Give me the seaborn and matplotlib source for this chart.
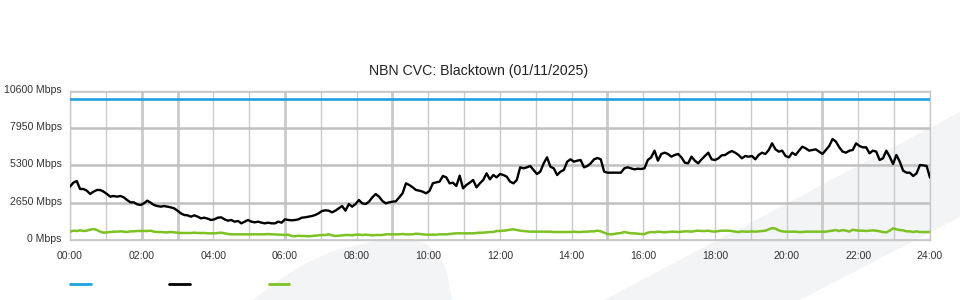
import numpy as np
import pandas as pd
import matplotlib
matplotlib.use("Agg")
import matplotlib.pyplot as plt
import matplotlib.transforms as mtransforms
import seaborn as sns
from matplotlib.patches import Polygon
from matplotlib.lines import Line2D

# ---------------- data (Mbps) ----------------
title = "NBN CVC: Blacktown (01/11/2025)"
capacity_mbps = 10000

black_00_06 = [3787, 4071, 4189, 3621, 3621, 3503, 3266, 3432, 3550, 3550,
               3432, 3266, 3077, 3124, 3077, 3124, 3029, 2840, 2674, 2674,
               2532, 2485, 2603, 2792, 2650, 2485, 2414, 2367, 2414, 2367,
               2319, 2248, 2082, 1893, 1775, 1751, 1657, 1751, 1657, 1538,
               1585, 1514, 1420, 1467, 1585, 1609, 1467, 1372, 1420, 1301,
               1349, 1183, 1301, 1420, 1301, 1254, 1301, 1230, 1183, 1230,
               1183, 1183, 1301, 1230]
black_06_12 = [1467, 1420, 1396, 1420, 1467, 1585, 1609, 1656, 1703, 1774,
               1893, 2058, 2106, 2082, 1964, 2082, 2248, 2413, 2082, 2555,
               2366, 2555, 2839, 2603, 2555, 2721, 3029, 3265, 3076, 2768,
               2603, 2674, 2721, 2745, 3029, 3313, 4023, 3905, 3739, 3550,
               3502, 3431, 3313, 3479, 4023, 4094, 4141, 4544, 4449, 4023,
               4070, 3834, 4567, 3668, 3905, 4070, 4260, 3739, 4023, 4260,
               4733, 4307, 4615, 4449]
black_12_18 = [4686, 4615, 4496, 4141, 4023, 4260, 5159, 5088, 5159, 5254,
               4970, 4686, 4851, 5443, 5869, 5206, 5088, 4615, 4851, 4970,
               5561, 5727, 5561, 5632, 5680, 5159, 5254, 5443, 5727, 5822,
               5727, 4851, 4780, 4780, 4780, 4780, 4780, 5088, 5159, 5088,
               5017, 5064, 5041, 5088, 5680, 5869, 6343, 5632, 6106, 6200,
               6106, 5916, 6035, 6106, 5869, 5490, 5443, 5916, 5632, 5443,
               5727, 5964, 6200, 5727]
black_18_24 = [5680, 5798, 6011, 6035, 6200, 6319, 6200, 6035, 5798, 5964,
               5916, 5964, 5727, 6035, 6200, 6106, 6390, 6863, 6437, 6272,
               6343, 5964, 5869, 6200, 6035, 6343, 6627, 6508, 6343, 6390,
               6437, 6272, 6106, 6390, 6674, 7171, 6982, 6579, 6272, 6200,
               6343, 6390, 6863, 6674, 6579, 6579, 6153, 6343, 6272, 5680,
               5798, 6343, 5916, 5396, 6035, 5561, 4922, 4780, 4780, 4543,
               4733, 5325, 5301, 5254, 4424]

green_00_06 = [591, 662, 639, 686, 639, 662, 733, 781, 710, 591,
               520, 544, 568, 591, 591, 615, 591, 568, 615, 615,
               639, 639, 639, 639, 662, 591, 568, 568, 544, 544,
               568, 544, 520, 497, 497, 497, 497, 520, 497, 497,
               497, 473, 473, 473, 497, 520, 473, 426, 402, 402,
               402, 402, 402, 402, 402, 402, 402, 402, 402, 426,
               402, 402, 378, 378]
green_06_12 = [354, 378, 283, 260, 307, 283, 283, 260, 283, 307,
               331, 354, 354, 402, 331, 283, 307, 331, 354, 354,
               331, 378, 378, 354, 378, 354, 331, 354, 354, 354,
               402, 402, 402, 402, 402, 425, 402, 402, 402, 449,
               425, 402, 378, 378, 378, 378, 402, 402, 402, 425,
               449, 473, 473, 473, 473, 473, 473, 496, 520, 520,
               544, 567, 567, 638]
green_12_18 = [638, 662, 685, 733, 756, 709, 662, 638, 614, 591,
               591, 591, 591, 591, 591, 591, 567, 567, 567, 567,
               567, 567, 591, 567, 567, 591, 591, 614, 614, 662,
               614, 520, 425, 402, 425, 473, 496, 567, 520, 473,
               473, 449, 425, 425, 520, 567, 543, 591, 567, 543,
               567, 591, 591, 567, 591, 614, 614, 591, 638, 662,
               638, 638, 662, 614]
green_18_24 = [591, 638, 662, 662, 662, 638, 591, 567, 614, 591,
               591, 614, 591, 614, 638, 662, 756, 851, 804, 685,
               614, 591, 591, 591, 591, 567, 567, 591, 591, 591,
               591, 591, 591, 591, 638, 662, 709, 638, 709, 662,
               591, 733, 685, 662, 662, 638, 662, 685, 662, 614,
               567, 543, 662, 828, 756, 709, 685, 614, 614, 567,
               614, 567, 567, 567, 567]

y_ticks = [0, 2650, 5300, 7950, 10600]
x_ticks = list(range(0, 25, 2))
x_labels = [f"{h:02d}:00" for h in x_ticks]

# ---------------- build frame ----------------
black = black_00_06 + black_06_12 + black_12_18 + black_18_24
green = green_00_06 + green_06_12 + green_12_18 + green_18_24
hours = np.linspace(0, 24, len(black))
df = pd.DataFrame({"hour": hours, "black": black, "green": green})
cap_df = pd.DataFrame({"hour": [0, 24], "cap": [capacity_mbps, capacity_mbps]})

BLUE = "#1ea1e0"
GREEN = "#7cc223"

sns.set_style("white")
plt.rcParams["font.family"] = ["Liberation Sans", "DejaVu Sans"]

W, H = 960, 300
fig = plt.figure(figsize=(W / 100, H / 100), dpi=100)


def px(pts):
    return [(x / W, 1 - y / H) for x, y in pts]


# faint background watermark shapes
bg = "#f3f4f6"
fig.patches.append(Polygon(px([(604, 300), (960, 112), (960, 217), (800, 300)]),
                           closed=True, transform=fig.transFigure,
                           facecolor=bg, edgecolor="none", zorder=-5))
fig.patches.append(Polygon(px([(253, 300), (275, 283), (300, 266), (333, 251),
                               (370, 242), (400, 239), (425, 243), (440, 256),
                               (447, 273), (452, 300)]),
                           closed=True, transform=fig.transFigure,
                           facecolor=bg, edgecolor="none", zorder=-5))

ax = fig.add_axes([70 / W, 1 - 240 / H, 860 / W, (240 - 90.7) / H])
ax.set_facecolor("none")

sns.lineplot(data=cap_df, x="hour", y="cap", color=BLUE, lw=1.9, ax=ax, legend=False, zorder=4)
sns.lineplot(data=df, x="hour", y="green", color=GREEN, lw=1.8, ax=ax, legend=False, zorder=3)
sns.lineplot(data=df, x="hour", y="black", color="black", lw=1.7, ax=ax, legend=False, zorder=5)

ax.set_xlim(0, 24)
ax.set_ylim(0, 10600)
ax.set_xticks(x_ticks)
ax.set_xticklabels(x_labels)
ax.set_xticks(range(0, 25), minor=True)
ax.set_yticks(y_ticks)
ax.set_yticklabels([f"{v} Mbps" for v in y_ticks])
ax.set_xlabel("")
ax.set_ylabel("")

ax.grid(True, which="both", axis="x", color="#cacaca", lw=1.0, zorder=0)
ax.grid(True, which="major", axis="y", color="#c0c0c0", lw=1.8, zorder=0)
for h in [2, 3, 6, 9, 15, 21]:
    ax.axvline(h, color="#c2c2c2", lw=1.8, zorder=0)
ax.set_axisbelow(True)

for s in ax.spines.values():
    s.set_color("#c8c8c8")
    s.set_linewidth(1.0)

ax.tick_params(axis="both", which="both", length=0, labelsize=7.6, labelcolor="#333333")
ax.tick_params(axis="x", pad=8)
ax.tick_params(axis="y", pad=6)

# y labels sit slightly above their grid lines in the reference
shift = mtransforms.ScaledTranslation(0, 2 / 100, fig.dpi_scale_trans)
for lab in ax.get_yticklabels():
    lab.set_transform(lab.get_transform() + shift)

fig.text(478.5 / W, 1 - 71.5 / H, title, ha="center", va="center",
         fontsize=10.2, color="#222222")

handles = [Line2D([], [], color=BLUE, lw=2),
           Line2D([], [], color="black", lw=2),
           Line2D([], [], color=GREEN, lw=2)]
fig.legend(handles=handles, labels=["", "", ""], ncol=3, loc="center left",
           bbox_to_anchor=(70 / W, 1 - 285 / H), frameon=False, fontsize=10,
           handlelength=1.5, handletextpad=0, columnspacing=5.65,
           borderaxespad=0, borderpad=0)

fig.savefig("out.png", dpi=100)
